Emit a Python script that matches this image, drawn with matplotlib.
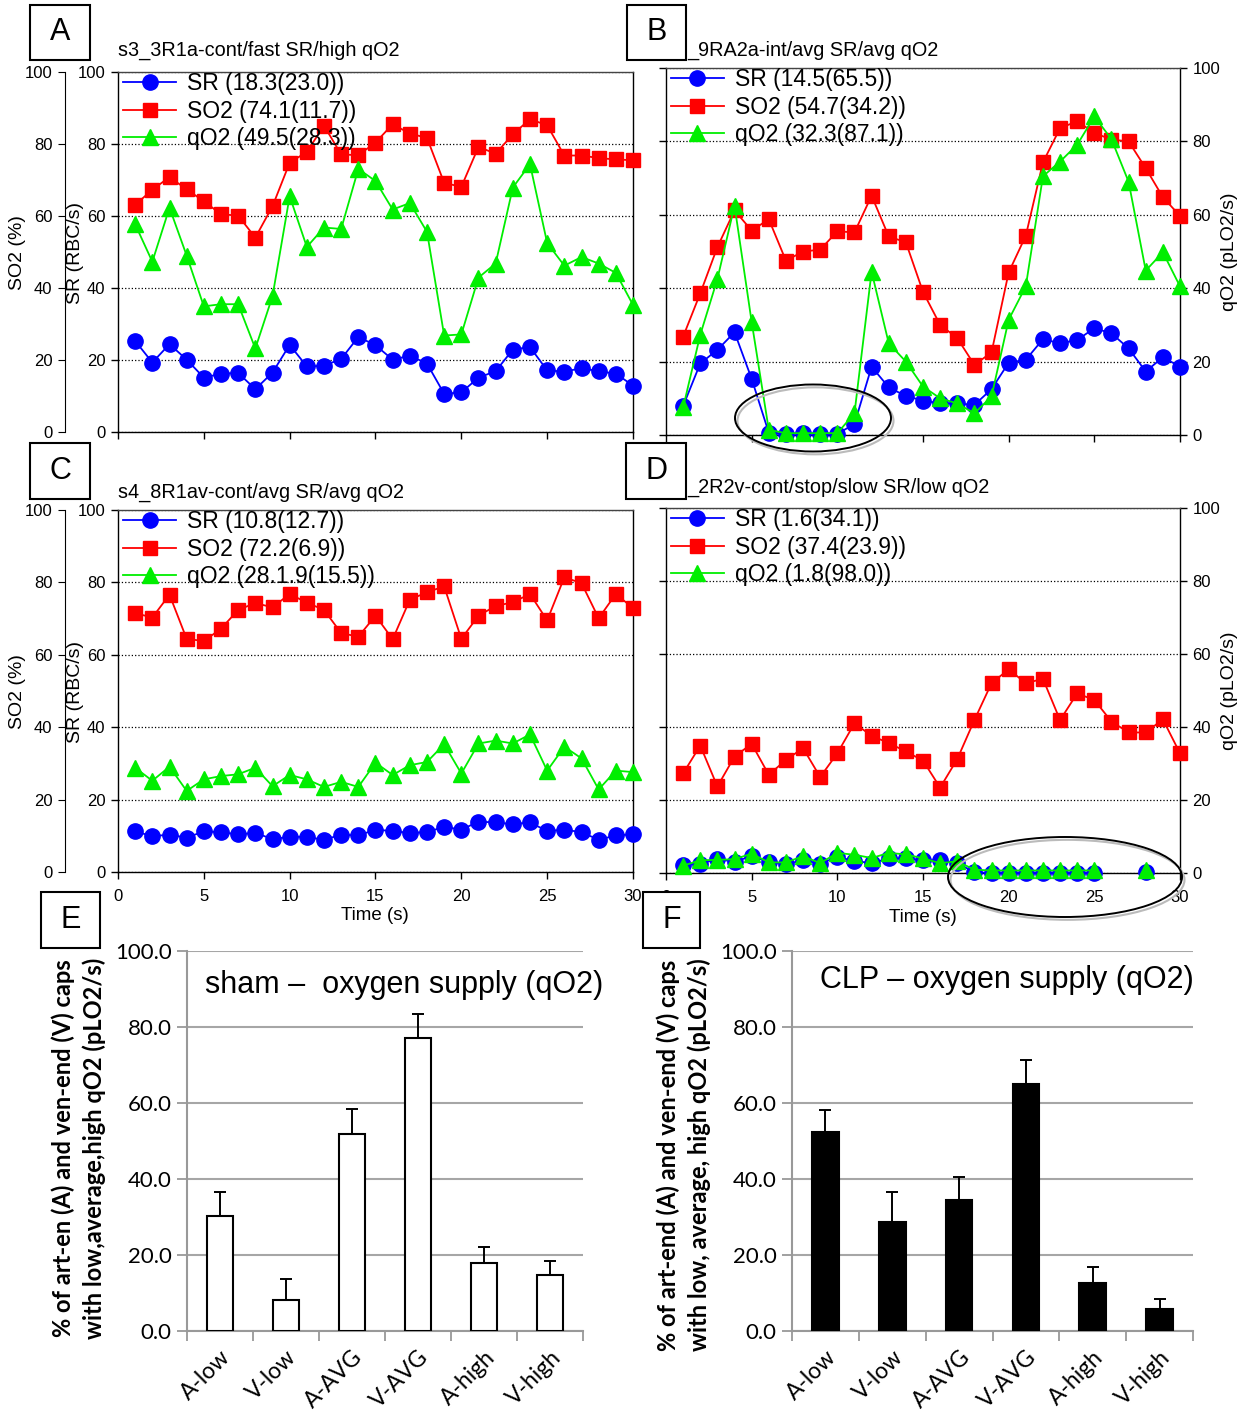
import numpy as np
import matplotlib
matplotlib.use('Agg')
import matplotlib.pyplot as plt
from matplotlib.patches import Ellipse, Rectangle

plt.rcParams['font.family'] = ['Liberation Sans', 'DejaVu Sans']

W, H = 1245, 1415

# ---------------- data ----------------
time_s = np.arange(1, 31)

a_title = "s3_3R1a-cont/fast SR/high qO2"
a_labels = ["SR (18.3(23.0))", "SO2 (74.1(11.7))", "qO2 (49.5(28.3))"]
a_sr = [25.3, 19.3, 24.4, 20.1, 15.1, 16.2, 16.4, 11.9, 16.5, 24.2,
        18.2, 18.4, 20.3, 26.4, 24.1, 20.1, 21.2, 19.0, 10.6, 11.0,
        15.1, 16.9, 22.9, 23.6, 17.1, 16.8, 17.7, 16.9, 16.2, 12.9]
a_so2 = [63.1, 67.3, 70.8, 67.4, 64.1, 60.5, 60.1, 54.0, 62.7, 74.8,
         77.8, 85.1, 77.1, 76.9, 80.4, 85.5, 82.9, 81.7, 69.2, 68.1,
         79.2, 77.3, 82.7, 86.9, 85.2, 76.8, 76.8, 76.1, 75.7, 75.5]
a_qo2 = [57.7, 47.3, 62.3, 49.0, 34.9, 35.5, 35.5, 23.2, 37.7, 65.5,
         51.4, 56.8, 56.4, 73.1, 69.7, 61.8, 63.6, 55.6, 26.8, 27.1,
         42.9, 46.8, 67.9, 74.4, 52.5, 46.2, 48.6, 46.8, 44.2, 35.3]

b_title = "_9RA2a-int/avg SR/avg qO2"
b_labels = ["SR (14.5(65.5))", "SO2 (54.7(34.2))", "qO2 (32.3(87.1))"]
b_sr = [7.9, 19.5, 23.2, 28.0, 15.3, 0.6, 0.3, 0.5, 0.3, 0.3,
        3.0, 18.6, 13.0, 10.6, 9.4, 8.6, 8.6, 8.2, 12.5, 19.7,
        20.5, 26.1, 25.0, 25.9, 29.1, 27.7, 23.6, 17.3, 21.2, 18.6]
b_so2 = [26.8, 38.6, 51.2, 61.2, 55.7, 58.8, 47.5, 50.0, 50.5, 55.5,
         55.2, 65.2, 54.1, 52.5, 39.0, 30.0, 26.4, 19.1, 22.5, 44.3,
         54.3, 74.3, 83.6, 85.5, 82.3, 80.5, 80.0, 72.7, 64.8, 59.7]
b_qo2 = [7.5, 27.3, 42.5, 62.5, 30.8, 1.4, 0.5, 0.5, 0.5, 0.5,
         5.9, 44.5, 25.0, 20.0, 13.2, 10.0, 8.6, 5.9, 10.5, 31.4,
         40.5, 70.5, 74.5, 79.1, 86.8, 80.6, 69.0, 44.8, 49.8, 40.5]

c_title = "s4_8R1av-cont/avg SR/avg qO2"
c_labels = ["SR (10.8(12.7))", "SO2 (72.2(6.9))", "qO2 (28.1.9(15.5))"]
c_sr = [11.2, 9.9, 10.3, 9.5, 11.2, 11.0, 10.4, 10.8, 9.1, 9.7,
        9.7, 8.9, 10.3, 10.1, 11.7, 11.3, 10.8, 11.0, 12.5, 11.7,
        13.9, 13.7, 13.2, 13.7, 11.3, 11.7, 11.0, 8.9, 10.1, 10.4]
c_so2 = [71.5, 70.3, 76.6, 64.4, 63.8, 67.2, 72.4, 74.3, 73.1, 76.8,
         74.4, 72.4, 66.0, 65.0, 70.8, 64.3, 75.2, 77.3, 78.9, 64.4,
         70.8, 73.5, 74.5, 76.8, 69.5, 81.4, 79.8, 70.1, 76.8, 72.9]
c_qo2 = [28.8, 25.2, 29.1, 22.4, 25.6, 26.5, 27.0, 28.8, 23.7, 26.8,
         25.6, 23.5, 24.9, 23.5, 30.2, 26.8, 29.5, 30.4, 35.3, 27.2,
         35.5, 36.3, 35.5, 38.0, 28.0, 34.6, 31.4, 22.8, 28.0, 27.6]

d_title = "_2R2v-cont/stop/slow SR/low qO2"
d_labels = ["SR (1.6(34.1))", "SO2 (37.4(23.9))", "qO2 (1.8(98.0))"]
d_sr = [2.3, 2.6, 3.8, 3.1, 4.6, 3.1, 2.4, 3.5, 2.6, 4.4,
        3.3, 2.7, 4.0, 4.0, 3.5, 3.5, 2.7, 0.2, 0.0, 0.0,
        0.0, 0.0, 0.0, 0.0, 0.0, np.nan, np.nan, 0.2, np.nan, np.nan]
d_so2 = [27.3, 34.9, 23.7, 31.9, 35.4, 26.9, 31.0, 34.2, 26.3, 32.8,
         41.0, 37.6, 35.6, 33.3, 30.8, 23.4, 31.2, 41.9, 52.0, 55.8,
         52.0, 53.2, 41.9, 49.2, 47.4, 41.5, 38.5, 38.5, 42.1, 32.8]
d_qo2 = [2.0, 3.5, 3.6, 3.8, 5.3, 2.9, 2.9, 4.6, 2.7, 5.5,
         5.0, 4.1, 5.5, 5.1, 4.0, 2.7, 3.2, 0.9, 0.7, 0.7,
         0.7, 0.7, 0.7, 0.7, 0.7, np.nan, np.nan, 0.7, np.nan, np.nan]

bar_categories = ["A-low", "V-low", "A-AVG", "V-AVG", "A-high", "V-high"]
sham_values = [30.3, 8.2, 51.9, 77.1, 17.8, 14.7]
sham_errors = [6.2, 5.5, 6.4, 6.2, 4.3, 3.6]
clp_values = [52.5, 28.8, 34.4, 65.0, 12.7, 5.8]
clp_errors = [5.6, 7.9, 6.0, 6.2, 4.1, 2.6]

# ---------------- figure ----------------
fig = plt.figure(figsize=(W / 100, H / 100), dpi=100)


def rect(l, t, r, b):
    return [l / W, 1 - b / H, (r - l) / W, (b - t) / H]


def fx(x):
    return x / W


def fy(y):
    return 1 - y / H


def line_panel(box, sr, so2, qo2, labels, side, xlabels):
    ax = fig.add_axes(rect(*box))
    ax.plot(time_s, sr, '-o', color='#0000FF', ms=11, lw=1.3, label=labels[0],
            clip_on=False, zorder=3)
    ax.plot(time_s, so2, '-s', color='#FF0000', ms=10.5, lw=1.3, label=labels[1],
            clip_on=False, zorder=4)
    ax.plot(time_s, qo2, '-^', color='#00EE00', ms=11.5, lw=1.3, label=labels[2],
            clip_on=False, zorder=5)
    ax.set_xlim(0, 30)
    ax.set_ylim(0, 100)
    ax.set_xticks(range(0, 31, 5))
    ax.set_yticks(range(0, 101, 20))
    ax.grid(axis='y', linestyle=':', color='black', lw=0.9)
    ax.tick_params(direction='out', length=5, width=1, labelsize=12,
                   left=True, right=True, pad=4)
    ax.tick_params(axis='x', pad=7)
    if side == 'left':
        ax.tick_params(labelleft=True, labelright=False)
    else:
        ax.tick_params(labelleft=False, labelright=True)
    if not xlabels:
        ax.tick_params(labelbottom=False)
    for s in ax.spines.values():
        s.set_linewidth(1.0)
    ax.spines['top'].set_color('#444444')
    leg = ax.legend(loc='upper left', bbox_to_anchor=(0.01, 1.0), frameon=False,
                    fontsize=16.5, handlelength=2.3, handletextpad=0.5,
                    borderpad=0.0, borderaxespad=0.0, labelspacing=0.2)
    leg.set_zorder(10)
    if side == 'left':
        ax2 = ax.twinx()
        ax2.set_ylim(0, 100)
        ax2.set_yticks(range(0, 101, 20))
        ax2.spines['left'].set_position(('axes', -53 / (box[2] - box[0])))
        ax2.spines['left'].set_visible(True)
        for s in ['right', 'top', 'bottom']:
            ax2.spines[s].set_visible(False)
        ax2.yaxis.set_ticks_position('left')
        ax2.tick_params(direction='out', length=5, labelsize=12, pad=4)
    return ax


axA = line_panel((118, 72, 633, 432), a_sr, a_so2, a_qo2, a_labels, 'left', False)
axB = line_panel((666, 68, 1180, 435), b_sr, b_so2, b_qo2, b_labels, 'right', False)
axC = line_panel((118, 510, 633, 872), c_sr, c_so2, c_qo2, c_labels, 'left', True)
axD = line_panel((666, 508, 1180, 873), d_sr, d_so2, d_qo2, d_labels, 'right', True)

# titles
fig.text(fx(118), fy(50), a_title, fontsize=14.3, va='center', ha='left')
fig.text(fx(687), fy(50), b_title, fontsize=14.3, va='center', ha='left')
fig.text(fx(118), fy(492), c_title, fontsize=14.3, va='center', ha='left')
fig.text(fx(687), fy(487), d_title, fontsize=14.3, va='center', ha='left')

# y labels line panels
for yc in (253, 692):
    fig.text(fx(18), fy(yc), "SO2 (%)", rotation=90, fontsize=14, ha='center', va='center')
    fig.text(fx(75), fy(yc), "SR (RBC/s)", rotation=90, fontsize=14, ha='center', va='center')
fig.text(fx(1229), fy(252), "qO2 (pLO2/s)", rotation=90, fontsize=14, ha='center', va='center')
fig.text(fx(1229), fy(691), "qO2 (pLO2/s)", rotation=90, fontsize=14, ha='center', va='center')

# time labels
fig.text(fx(375), fy(916), "Time (s)", fontsize=13.5, ha='center', va='center')
fig.text(fx(923), fy(918), "Time (s)", fontsize=13.5, ha='center', va='center')

# ellipses
for (cx, cy, ew, eh) in [(813, 418, 156, 67), (1065, 877, 234, 80)]:
    fig.patches.append(Ellipse((fx(cx) + 0.002, fy(cy) - 0.002), ew / W, eh / H,
                               transform=fig.transFigure, fill=False,
                               edgecolor='#BBBBBB', lw=1.5, zorder=19))
    fig.patches.append(Ellipse((fx(cx), fy(cy)), ew / W, eh / H,
                               transform=fig.transFigure, fill=False,
                               edgecolor='black', lw=1.4, zorder=20))


# ---------------- bar panels ----------------
def bar_panel(box, values, errors, face, title, title_xy, ylab, ylab_x):
    ax = fig.add_axes(rect(*box))
    x = np.arange(len(bar_categories))
    ax.bar(x, values, width=0.4, color=face, edgecolor='black', lw=1.5, zorder=3)
    ax.errorbar(x, values, yerr=[np.zeros(len(values)), errors], fmt='none',
                ecolor='black', elinewidth=1.4, capsize=4, capthick=1.4, zorder=4)
    ax.set_xlim(-0.5, len(bar_categories) - 0.5)
    ax.set_ylim(0, 100)
    ax.set_yticks(np.arange(0, 101, 20))
    ax.set_yticklabels([f"{v:.1f}" for v in np.arange(0, 101, 20)],
                       family='Lato', fontsize=16)
    ax.set_xticks(x)
    ax.set_xticklabels(bar_categories, rotation=45, ha='right', va='top',
                       rotation_mode='anchor', family='Lato', fontsize=16.5)
    ax.set_xticks(np.arange(len(bar_categories) + 1) - 0.5, minor=True)
    ax.tick_params(axis='x', which='major', length=0, pad=11)
    ax.tick_params(axis='x', which='minor', length=7, color='#999999', width=1.3)
    ax.tick_params(axis='y', length=7, color='#999999', width=1.3, pad=4)
    ax.grid(axis='y', color='#A6A6A6', lw=1.5, zorder=0)
    for s in ['top', 'right']:
        ax.spines[s].set_visible(False)
    for s in ['left', 'bottom']:
        ax.spines[s].set_color('#999999')
        ax.spines[s].set_linewidth(1.5)
    fig.text(fx(title_xy[0]), fy(title_xy[1]), title, fontsize=22, ha='left', va='center')
    fig.text(fx(ylab_x[0]), fy(ylab_x[2]), ylab[0], rotation=90, family='Lato',
             fontweight='bold', fontsize=17, ha='center', va='center')
    fig.text(fx(ylab_x[1]), fy(ylab_x[2]), ylab[1], rotation=90, family='Lato',
             fontweight='bold', fontsize=17, ha='center', va='center')
    return ax


bar_panel((187, 951, 583, 1331), sham_values, sham_errors, 'white',
          "sham \u2013  oxygen supply (qO2)", (205, 985),
          ["% of art-en (A) and ven-end (V) caps", "with low,average,high qO2 (pLO2/s)"],
          (63, 94, 1148))
bar_panel((792, 951, 1193, 1331), clp_values, clp_errors, 'black',
          "CLP \u2013 oxygen supply (qO2)", (820, 980),
          ["% of art-end (A) and ven-end (V) caps", "with low, average, high qO2 (pLO2/s)"],
          (668, 699, 1155))

# ---------------- panel letter boxes ----------------
for letter, (l, t, r, b) in [("A", (30, 5, 90, 60)), ("B", (627, 5, 686, 60)),
                             ("C", (30, 443, 90, 499)), ("D", (626, 443, 686, 499)),
                             ("E", (41, 892, 100, 948)), ("F", (643, 892, 700, 948))]:
    fig.patches.append(Rectangle((fx(l), fy(b)), (r - l) / W, (b - t) / H,
                                 transform=fig.transFigure, facecolor='white',
                                 edgecolor='black', lw=1.5, zorder=30))
    fig.text(fx((l + r) / 2), fy((t + b) / 2), letter, fontsize=22,
             ha='center', va='center', zorder=31)

fig.savefig('out.png', dpi=100)
